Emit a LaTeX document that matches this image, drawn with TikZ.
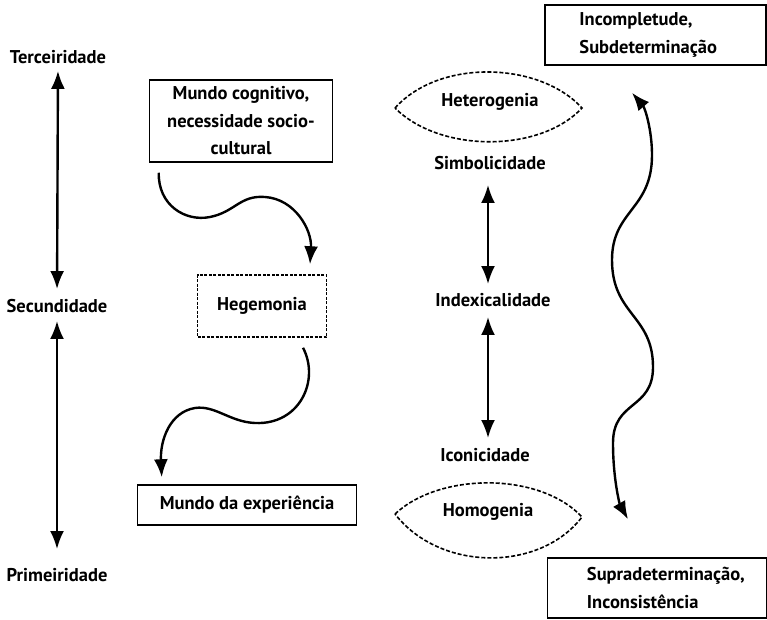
\documentclass[tikz,border=0pt]{standalone}
\usepackage{fontspec}
\setmainfont{PT Sans}
\usetikzlibrary{arrows.meta,calc}
\begin{document}
\begin{tikzpicture}[x=1pt,y=-1pt,
  every node/.style={font=\fontsize{18.5}{27.5}\selectfont\bfseries, inner sep=0pt},
  box/.style={draw, line width=1.5pt},
  dbox/.style={draw, line width=1.5pt, dash pattern=on 3pt off 1.5pt},
  lens/.style={line width=1.6pt, dash pattern=on 4pt off 2pt},
  tip/.tip={Latex[length=18pt,width=14pt]},
  arr/.style={line width=2.4pt, -tip},
  dbl/.style={line width=2.4pt, tip-tip}]
\useasboundingbox (0,0) rectangle (767,620);
% left column
\node (ter) at (58,57) {Terceiridade};
\node (sec) at (57,306) {Secundidade};
\node (pri) at (57,575) {Primeiridade};
\draw[dbl, shorten <=7pt, shorten >=10pt] (ter.south) -- (sec.north);
\draw[dbl, shorten <=8pt, shorten >=19pt] (sec.south) -- (pri.north);
% middle column
\node[box, minimum width=183, minimum height=82, align=center] (mc) at (241,121)
  {Mundo cognitivo,\\necessidade socio-\\cultural};
\node[dbox, minimum width=129, minimum height=62] (heg) at (262,306) {Hegemonia};
\node[box, minimum width=219, minimum height=40] (mde) at (247,505) {Mundo da experiência};
\draw[arr] ($(mc.south west)+(10,10)$) .. controls (158,205) and (185,222) .. (210,217)
  .. controls (235,212) and (240,195) .. (265,197)
  .. controls (295,199) and (312,230) .. ($(heg.north)+(48,-10)$);
\draw[arr] ($(heg.south)+(41,10)$) .. controls (320,380) and (300,425) .. (255,423)
  .. controls (230,422) and (215,405) .. (195,408)
  .. controls (170,412) and (160,440) .. ($(mde.north west)+(25,-7)$);
% right-middle column
\node (het) at (490,102) {Heterogenia};
\draw[lens] (395,108) .. controls (440,58) and (540,62) .. (582,108)
  .. controls (540,153) and (440,153) .. cycle;
\node (sim) at (490,163) {Simbolicidade};
\node (idx) at (493,300) {Indexicalidade};
\node (ico) at (485,455) {Iconicidade};
\node (hom) at (488,512) {Homogenia};
\draw[lens] (395,514) .. controls (440,472) and (540,472) .. (582,517)
  .. controls (540,572) and (440,572) .. cycle;
\draw[dbl, shorten <=15pt, shorten >=9pt] (sim.south -| 488,0) -- (idx.north -| 488,0);
\draw[dbl, shorten <=10pt, shorten >=10pt] (idx.south -| 488,0) -- (ico.north -| 488,0);
% right column
\node[box, minimum width=221, minimum height=60] (inc) at (655.5,35) {};
\node[anchor=west, align=left] (inct) at ($(inc.west)+(35,0)$) {Incompletude,\\Subdeterminação};
\node[box, minimum width=219, minimum height=60] (sup) at (657,588) {};
\node[anchor=west, align=left] (supt) at ($(sup.west)+(40,0)$) {Supradeterminação,\\Inconsistência};
\draw[dbl] ($(inc.south)+(-23.5,27)$) .. controls (645,108) and (652,130) .. (652,155)
  .. controls (652,210) and (612,210) .. (612,260)
  .. controls (612,315) and (653,315) .. (653,367)
  .. controls (653,410) and (613,400) .. (613,443)
  .. controls (613,480) and (620,505) .. ($(sup.north)+(-29,-38)$);
\end{tikzpicture}
\end{document}
